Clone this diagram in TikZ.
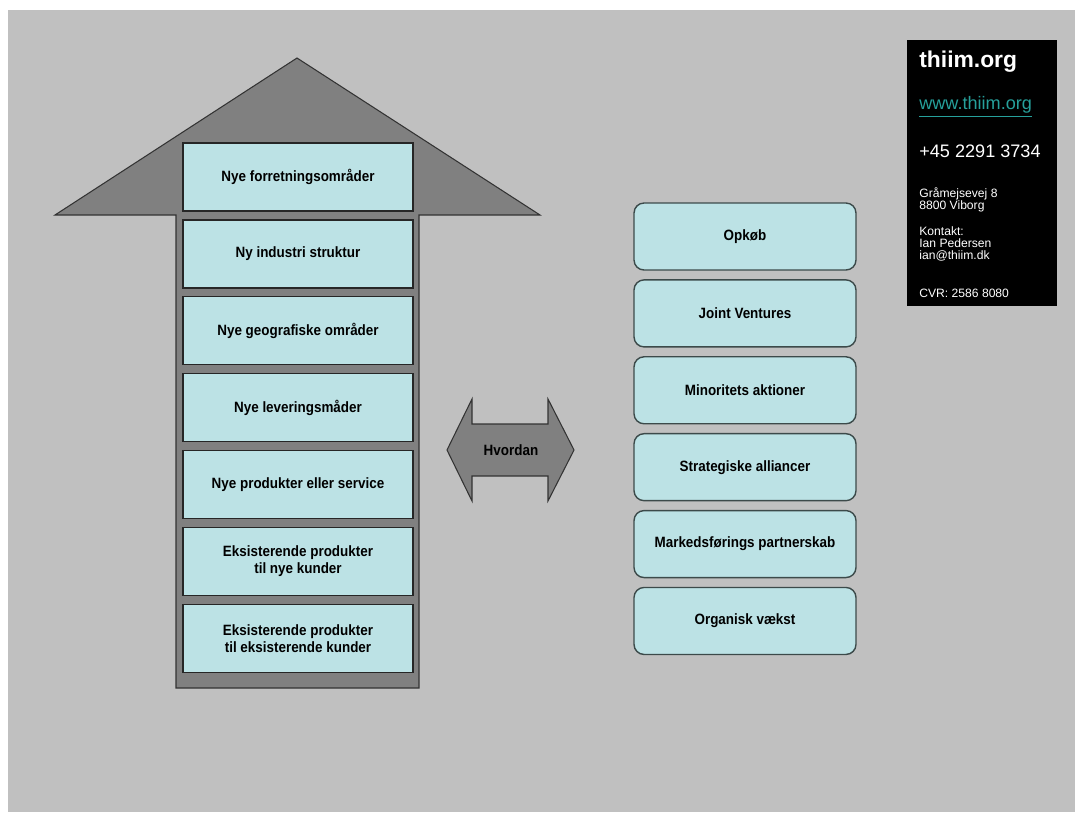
\documentclass[tikz,border=0pt]{standalone}
\usepackage{fontspec}
\setmainfont{Liberation Sans}
\newfontfamily\boxfont{Liberation Sans}[FakeStretch=0.9]
\usetikzlibrary{positioning}
\definecolor{bggray}{RGB}{192,192,192}
\definecolor{arrowgray}{RGB}{128,128,128}
\definecolor{boxcyan}{RGB}{188,226,229}
\definecolor{rboxline}{RGB}{60,74,74}
\definecolor{linkteal}{RGB}{38,160,155}
\tikzset{
  leftbox/.style={draw=black!85,line width=0.8pt,fill=boxcyan,minimum width=4.6cm,
    minimum height=1.36cm,align=center,inner sep=0pt,
    font=\boxfont\bfseries\fontsize{8.5}{9.8}\selectfont},
  rightbox/.style={leftbox,draw=rboxline,rounded corners=0.2cm,minimum width=4.44cm,
    minimum height=1.34cm},
  infotext/.style={anchor=west,text=white,inner sep=0pt,align=left}
}

\begin{document}
\begin{tikzpicture}[x=0.02cm,y=-0.02cm]
  \useasboundingbox (0,0) rectangle (1075,812);
  \fill[white] (0,0) rectangle (1075,812);
  \fill[bggray] (8,10) rectangle (1075,812);

  % big arrow
  \filldraw[fill=arrowgray,draw=black!80,line width=0.6pt]
    (297,58) -- (540,215) -- (419,215) -- (419,688) -- (176,688)
    -- (176,215) -- (55,215) -- cycle;

  \node[leftbox] (b1) at (298,177) {Nye forretningsområder};
  \node[leftbox,below=0.15cm of b1] (b2) {Ny industri struktur};
  \node[leftbox,below=0.15cm of b2] (b3) {Nye geografiske områder};
  \node[leftbox,below=0.15cm of b3] (b4) {Nye leveringsmåder};
  \node[leftbox,below=0.15cm of b4] (b5) {Nye produkter eller service};
  \node[leftbox,below=0.15cm of b5] (b6) {Eksisterende produkter\\til nye kunder};
  \node[leftbox,below=0.15cm of b6] (b7) {Eksisterende produkter\\til eksisterende kunder};

  % double arrow
  \filldraw[fill=arrowgray,draw=black!80,line width=0.6pt]
    (447,450) -- (472,399) -- (472,424) -- (548,424) -- (548,399) -- (574,450)
    -- (548,501) -- (548,476) -- (472,476) -- (472,501) -- cycle;
  \node[font=\boxfont\bfseries\fontsize{8.5}{9.8}\selectfont] (how) at (511,450) {Hvordan};

  \node[rightbox] (r1) at (745,236.5) {Opkøb};
  \node[rightbox,below=0.17cm of r1] (r2) {Joint Ventures};
  \node[rightbox,below=0.17cm of r2] (r3) {Minoritets aktioner};
  \node[rightbox,below=0.17cm of r3] (r4) {Strategiske alliancer};
  \node[rightbox,below=0.17cm of r4] (r5) {Markedsførings partnerskab};
  \node[rightbox,below=0.17cm of r5] (r6) {Organisk vækst};

  % contact box
  \fill[black] (907,40) rectangle (1057,306);
  \node[infotext,font=\bfseries\fontsize{13}{14}\selectfont] (org) at (919,62) {thiim.org};
  \node[infotext,text=linkteal,font=\fontsize{10.3}{12}\selectfont] (web) at (919,107) {\underline{www.thiim.org}};
  \node[infotext,font=\fontsize{10.3}{12}\selectfont] (tel) at (919,151) {+45 2291 3734};
  \node[infotext,font=\fontsize{6.9}{7}\selectfont] (adr) at (919,200) {Gråmejsevej 8\\8800 Viborg};
  \node[infotext,font=\fontsize{6.9}{7}\selectfont] (kont) at (919,244) {Kontakt:\\Ian Pedersen\\ian@thiim.dk};
  \node[infotext,font=\fontsize{6.9}{7}\selectfont] (cvr) at (919,293) {CVR: 2586 8080};
\end{tikzpicture}
\end{document}
